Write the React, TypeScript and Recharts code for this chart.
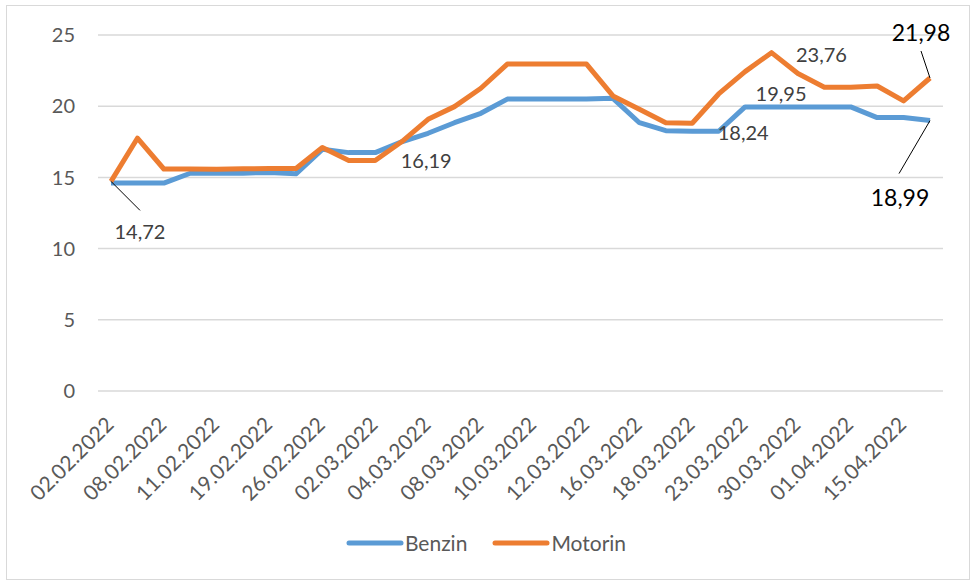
import { LineChart, Line, XAxis, YAxis, CartesianGrid } from "recharts";

const dates = [
  "02.02.2022", "05.02.2022", "08.02.2022", "09.02.2022", "11.02.2022", "16.02.2022",
  "19.02.2022", "23.02.2022", "26.02.2022", "01.03.2022", "02.03.2022", "03.03.2022",
  "04.03.2022", "05.03.2022", "08.03.2022", "09.03.2022", "10.03.2022", "11.03.2022",
  "12.03.2022", "15.03.2022", "16.03.2022", "17.03.2022", "18.03.2022", "22.03.2022",
  "23.03.2022", "26.03.2022", "30.03.2022", "31.03.2022", "01.04.2022", "07.04.2022",
  "15.04.2022", "19.04.2022",
];

const benzin = [
  14.6, 14.6, 14.6, 15.29, 15.3, 15.3, 15.35, 15.25, 16.97, 16.74, 16.74, 17.5,
  18.1, 18.84, 19.5, 20.5, 20.5, 20.5, 20.5, 20.55, 18.84, 18.28, 18.24, 18.24,
  19.95, 19.95, 19.95, 19.95, 19.95, 19.2, 19.2, 18.99,
];

const motorin = [
  14.72, 17.75, 15.59, 15.59, 15.58, 15.6, 15.62, 15.62, 17.1, 16.19, 16.19, 17.5,
  19.08, 19.97, 21.26, 22.96, 22.96, 22.96, 22.96, 20.72, 19.78, 18.84, 18.8, 20.86,
  22.43, 23.76, 22.3, 21.33, 21.33, 21.42, 20.37, 21.98,
];

const yTicks = [0, 5, 10, 15, 20, 25];

const BLUE = "#5B9BD5";
const ORANGE = "#ED7D31";
const FONT = "Lato, 'Open Sans', sans-serif";

const data = dates.map((d, i) => ({ date: d, Benzin: benzin[i], Motorin: motorin[i] }));

// which points get a value label, and where the label sits relative to the point
type Callout = { dx: number; dy: number; big?: boolean; leader?: [number, number] };
const callouts: Record<string, Record<number, Callout>> = {
  Benzin: {
    22: { dx: 51, dy: 1 },
    24: { dx: 36, dy: -14 },
    31: { dx: -30, dy: 76, big: true, leader: [-31, 53] },
  },
  Motorin: {
    0: { dx: 29, dy: 50, leader: [29, 29] },
    10: { dx: 51, dy: 0 },
    25: { dx: 50, dy: 1 },
    31: { dx: -9, dy: -46, big: true, leader: [-9, -27] },
  },
};

const fmt = (v: number) => v.toFixed(2).replace(".", ",");

function makeLabel(series: string) {
  return (props: any) => {
    const { x, y, index, value } = props;
    const c = callouts[series][index];
    if (!c) return <g key={`${series}-${index}`} />;
    return (
      <g key={`${series}-${index}`}>
        {c.leader && (
          <line x1={x} y1={y} x2={x + c.leader[0]} y2={y + c.leader[1]} stroke="#000" strokeWidth={1} />
        )}
        <text
          x={x + c.dx}
          y={y + c.dy}
          textAnchor="middle"
          dominantBaseline="central"
          fontFamily={FONT}
          fontSize={c.big ? 23 : 20}
          fill={c.big ? "#000" : "#404040"}
        >
          {fmt(Number(value))}
        </text>
      </g>
    );
  };
}

const XTick = (props: any) => {
  const { x, y, payload } = props;
  const ax = x + 4;
  const ay = y + 27;
  return (
    <text
      x={ax}
      y={ay}
      transform={`rotate(-45 ${ax} ${ay})`}
      textAnchor="end"
      fontFamily={FONT}
      fontSize={21}
      fill="#595959"
    >
      {payload.value}
    </text>
  );
};

const series = [
  { key: "Benzin", color: BLUE },
  { key: "Motorin", color: ORANGE },
];

export default function App() {
  return (
    <div style={{ position: "absolute", left: 0, top: 0, width: 971, height: 582, background: "#fff" }}>
      <div
        style={{
          position: "absolute",
          left: 6,
          top: 5,
          width: 964,
          height: 575,
          border: "1px solid #D9D9D9",
          boxSizing: "border-box",
        }}
      />
      <LineChart
        width={971}
        height={582}
        data={data}
        margin={{ top: 35, right: 28, bottom: 0, left: 38 }}
        style={{ position: "absolute", left: 0, top: 0 }}
      >
        <CartesianGrid vertical={false} stroke="#D9D9D9" strokeWidth={1.5} />
        <XAxis
          dataKey="date"
          interval={1}
          height={191}
          axisLine={false}
          tickLine={false}
          padding={{ left: 13, right: 13 }}
          tick={<XTick />}
        />
        <YAxis
          domain={[0, 25]}
          ticks={yTicks}
          width={60}
          axisLine={false}
          tickLine={false}
          tickSize={0}
          tickMargin={23}
          tick={{ fontSize: 20, fill: "#595959", fontFamily: FONT }}
        />
        {series.map((s) => (
          <Line
            key={s.key}
            dataKey={s.key}
            stroke={s.color}
            strokeWidth={5}
            strokeLinejoin="round"
            dot={false}
            activeDot={false}
            isAnimationActive={false}
            label={makeLabel(s.key)}
          />
        ))}
      </LineChart>
      <div
        style={{
          position: "absolute",
          top: 530,
          left: 0,
          width: 971,
          display: "flex",
          justifyContent: "center",
          fontFamily: FONT,
          fontSize: 21,
          color: "#595959",
        }}
      >
        {series.map((s, i) => (
          <div key={s.key} style={{ display: "flex", alignItems: "center", marginLeft: i ? 24 : 0 }}>
            <svg width={60} height={26}>
              <line x1={4} y1={13} x2={56} y2={13} stroke={s.color} strokeWidth={5} strokeLinecap="round" />
            </svg>
            <span style={{ lineHeight: "26px" }}>{s.key}</span>
          </div>
        ))}
      </div>
    </div>
  );
}
